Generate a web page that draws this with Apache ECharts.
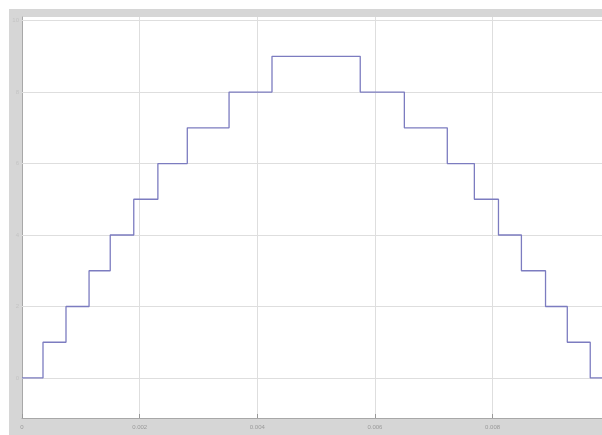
<!DOCTYPE html>
<html>
<head>
<meta charset="utf-8">
<script src="https://cdn.jsdelivr.net/npm/echarts@6/dist/echarts.min.js"></script>
<style>html,body{margin:0;padding:0;background:#fff}#c{width:602px;height:435px}</style>
</head>
<body>
<div id="c"></div>
<script>
// step change instants (s) and held levels
const stepTimes = [0, 0.000357, 0.000748, 0.00114, 0.0015, 0.0019, 0.00231, 0.00281, 0.00352, 0.00425,
                   0.00575, 0.0065, 0.00723, 0.00769, 0.0081, 0.00849, 0.0089, 0.00927, 0.00966, 0.0102];
const levels = [0, 1, 2, 3, 4, 5, 6, 7, 8, 9, 8, 7, 6, 5, 4, 3, 2, 1, 0, 0];
const xTicks = [0, 0.002, 0.004, 0.006, 0.008];
const xTickLabels = ['0', '0.002', '0.004', '0.006', '0.008'];
const yGrid = [0, 2, 4, 6, 8, 10];

const data = stepTimes.map((t, i) => [t, levels[i]]);
const chart = echarts.init(document.getElementById('c'), null, {renderer: 'canvas'});
chart.setOption({
  backgroundColor: '#d6d6d6',
  animation: false,
  graphic: [
    {type: 'rect', shape: {x: 0, y: 0, width: 602, height: 9}, style: {fill: '#fff'}},
    {type: 'rect', shape: {x: 0, y: 0, width: 9, height: 435}, style: {fill: '#fff'}}
  ],
  grid: {left: 22, right: 0, top: 17, bottom: 17, show: true, backgroundColor: '#fff', borderWidth: 0},
  xAxis: {
    type: 'value', min: 0, max: 0.00986, interval: 0.002,
    axisLine: {show: true, onZero: false, lineStyle: {color: '#a8a8a8', width: 1}},
    axisTick: {show: true, inside: true, length: 4, lineStyle: {color: '#999'}},
    axisLabel: {show: true, color: '#9a9a9a', fontSize: 6, margin: 6, showMaxLabel: false,
      formatter: v => { const i = xTicks.findIndex(t => Math.abs(t - v) < 1e-9); return i >= 0 ? xTickLabels[i] : ''; }},
    splitLine: {show: true, lineStyle: {color: '#dedede', width: 1}}
  },
  yAxis: {
    type: 'value', min: -1.12, max: 10.1,
    axisLine: {show: true, onZero: false, lineStyle: {color: '#a8a8a8', width: 1}},
    axisTick: {show: false},
    axisLabel: {show: false},
    splitLine: {show: false}
  },
  series: [{
    type: 'line', step: 'end', data: data, symbol: 'none',
    lineStyle: {color: '#7c7cc0', width: 1.3},
    z: 5,
    markLine: {
      silent: true, symbol: 'none', animation: false,
      lineStyle: {color: '#dedede', width: 1, type: 'solid'},
      label: {show: true, position: 'start', color: '#c4c4c4', fontSize: 6, distance: 3},
      data: yGrid.map(v => ({yAxis: v}))
    }
  }]
});
</script>
</body>
</html>
